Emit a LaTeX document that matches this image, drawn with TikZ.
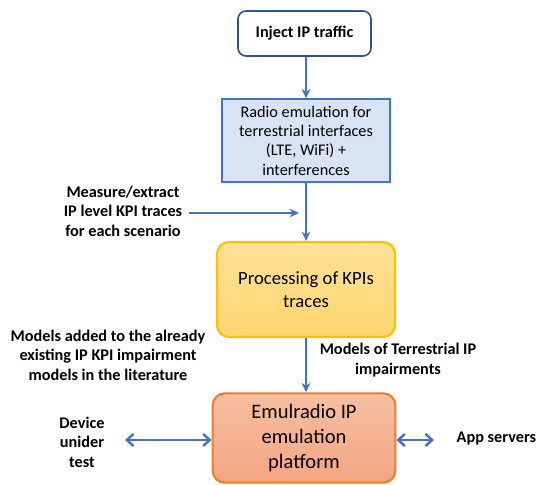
\documentclass[tikz,border=0pt]{standalone}
\usepackage{fontspec}
\setmainfont{Carlito}
\usetikzlibrary{arrows.meta}

\definecolor{arrowblue}{HTML}{4472C4}
\definecolor{darkblue}{HTML}{2F528F}
\definecolor{radiofill}{HTML}{DAE3F3}
\definecolor{kpiborder}{HTML}{FFC000}
\definecolor{kpitop}{HTML}{FFE199}
\definecolor{kpibot}{HTML}{FFD56E}
\definecolor{emuborder}{HTML}{ED7D31}
\definecolor{emutop}{HTML}{F6BFA0}
\definecolor{emubot}{HTML}{F4A582}

\tikzset{
  flow/.style={draw=arrowblue, line width=1.8pt, -{Stealth[length=7pt,width=6.5pt]}},
  both/.style={draw=arrowblue, line width=1.8pt, {Straight Barb[length=5pt,width=9pt,line width=1.8pt]}-{Straight Barb[length=5pt,width=9pt,line width=1.8pt]}},
  note/.style={align=center, font=\fontsize{12.2}{14.6}\selectfont\bfseries},
}

\begin{document}
\begin{tikzpicture}[x=0.75pt,y=0.75pt]
\useasboundingbox (0,0) rectangle (536,485);

% boxes
\node[draw=darkblue, line width=1.2pt, rounded corners=6pt, fill=white,
  minimum width=99.75pt, minimum height=33.75pt,
  font=\fontsize{12.2}{14}\selectfont\bfseries] (inject) at (304.5,451.5) {Inject IP traffic};

\node[draw=arrowblue, line width=1pt, fill=radiofill,
  minimum width=126pt, minimum height=62.25pt, align=center, inner sep=1pt,
  font=\fontsize{12.2}{14.5}\selectfont] (radio) at (306,344.5)
  {Radio emulation for\\terrestrial interfaces\\(LTE, WiFi) +\\interferences};

\node[draw=kpiborder, line width=1.6pt, rounded corners=9pt,
  top color=kpitop, bottom color=kpibot,
  minimum width=133.5pt, minimum height=71.25pt, align=center,
  font=\fontsize{14}{17.5}\selectfont] (kpi) at (306,195.5)
  {Processing of KPIs\\traces};

\node[draw=emuborder, line width=1.6pt, rounded corners=9pt,
  top color=emutop, bottom color=emubot,
  minimum width=137pt, minimum height=67pt, align=center,
  font=\fontsize{15.4}{18.5}\selectfont] (emu) at (304,47)
  {Emulradio IP\\emulation\\platform};

% labels
\node[note] (measure) at (123,274) {Measure/extract\\IP level KPI traces\\for each scenario};
\node[note] (added) at (108,130) {Models added to the already\\existing IP KPI impairment\\models in the literature};
\node[note] (models) at (398,125) {Models of Terrestrial IP\\impairments};
\node[note] (device) at (82,43) {Device\\unider\\test};
\node[note, anchor=west] (apps) at (452,46) {App servers};

\coordinate (tap) at (299,272);
\coordinate (dev) at (125,45);
\coordinate (app) at (434,45);

% connectors
\draw[flow] (inject.south -| radio) -- (radio.north);
\draw[flow] (radio.south) -- (kpi.north -| radio);
\draw[flow] (measure.east |- tap) ++(2,0) -- (tap);
\draw[flow] (kpi.south -| radio) -- (emu.north -| radio);
\draw[both] (dev) -- (emu.west |- dev);
\draw[both] (emu.east |- app) -- (app);
\end{tikzpicture}
\end{document}
